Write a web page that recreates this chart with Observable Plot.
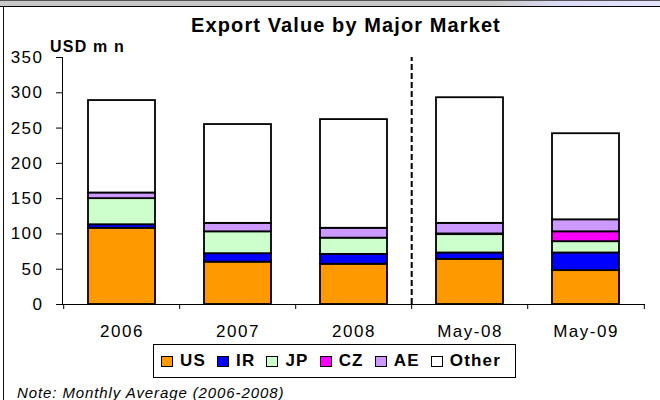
<!DOCTYPE html>
<html><head><meta charset="utf-8">
<script src="https://cdn.jsdelivr.net/npm/d3@7"></script>
<script src="https://cdn.jsdelivr.net/npm/@observablehq/plot@0.6"></script>
<style>
html,body{margin:0;padding:0;background:#fff;}
#wrap{position:relative;width:660px;height:400px;overflow:hidden;font-family:"Liberation Sans",Arial,sans-serif;color:#000;}
#topbar{position:absolute;left:0;top:0;width:660px;height:5px;border-top:1.5px solid #555;border-bottom:1.5px solid #000;background:linear-gradient(to right,#c8c8c8 0%,#c8c8c8 75%,#dcdcf8 85%,#e4e4fc 100%);}
#leftline{position:absolute;left:2.5px;top:7px;width:1.5px;height:400px;background:#111;}
#chart{position:absolute;left:0;top:0;}
#title{position:absolute;left:0;width:692px;top:15px;text-align:center;font-weight:bold;font-size:20px;line-height:20px;letter-spacing:1.1px;white-space:nowrap;}
#unit{position:absolute;left:50px;top:39px;font-weight:bold;font-size:16px;line-height:16px;letter-spacing:1.2px;white-space:nowrap;}
#legend{position:absolute;left:153px;top:344px;border:1px solid #000;display:flex;align-items:center;padding-left:7px;box-sizing:border-box;width:363px;height:34px;}
.item{display:flex;align-items:center;margin-right:11px;font-weight:bold;font-size:17px;letter-spacing:1.2px;}
.sw{width:10px;height:9px;border:1.5px solid #000;margin-right:7px;}
#note{position:absolute;left:17px;top:385px;font-style:italic;font-size:15px;line-height:15px;letter-spacing:0.9px;white-space:nowrap;}
</style></head><body>
<div id="wrap">
 <div id="topbar"></div>
 <div id="leftline"></div>
 <div id="chart"></div>
 <div id="title">Export Value by Major Market</div>
 <div id="unit">USD m n</div>
 <div id="legend"></div>
 <div id="note">Note: Monthly Average (2006-2008)</div>
</div>
<script>
const periods = ["2006", "2007", "2008", "May-08", "May-09"];
const markets = ["US", "IR", "JP", "CZ", "AE", "Other"];
const marketColors = ["#FF9900", "#0000FF", "#CCFFCC", "#FF00FF", "#CC99FF", "#FFFFFF"];
const usValues = [108, 60, 57, 64, 48];
const irValues = [5, 12, 14, 9, 25];
const jpValues = [37, 31, 23, 26, 16];
const czValues = [0, 0, 0, 1, 14];
const aeValues = [8, 12, 14, 15, 17];
const otherValues = [131, 140, 154, 178, 122];
const yTicks = [0, 50, 100, 150, 200, 250, 300, 350];
const yMax = 350;
const dividerBefore = "May-08";

const series = [usValues, irValues, jpValues, czValues, aeValues, otherValues];
const data = periods.flatMap((p, i) => markets.map((m, j) => ({period: p, market: m, value: series[j][i]})));

const W = 660, H = 400, mL = 62, mR = 15, mT = 57, mB = 96;
const step = (W - mL - mR) / periods.length;
const pxPerUnit = (H - mT - mB) / yMax;
const tickLen = 5 / pxPerUnit;

const plot = Plot.plot({
  width: W, height: H,
  marginLeft: mL, marginRight: mR, marginTop: mT, marginBottom: mB,
  style: {fontFamily: "'Liberation Sans', Arial, sans-serif", fontSize: "17px", color: "#000", background: "transparent", letterSpacing: "1.5px"},
  x: {domain: periods, paddingInner: 0.42, paddingOuter: 0.21, tickSize: 0, tickPadding: 20, label: null},
  y: {domain: [0, yMax], ticks: yTicks, tickSize: 6, tickPadding: 13, label: null, line: true, tickFormat: d => String(d)},
  color: {domain: markets, range: marketColors},
  marks: [
    Plot.barY(data, {x: "period", y: "value", fill: "market", stroke: "#000", strokeWidth: 1.8, order: markets}),
    Plot.ruleY([0], {stroke: "#000"}),
    Plot.ruleX(periods, {x: d => d, y1: 0, y2: -tickLen, dx: -step / 2, stroke: "#000"}),
    Plot.ruleX(periods.slice(-1), {x: d => d, y1: 0, y2: -tickLen, dx: step / 2, stroke: "#000"}),
    Plot.ruleX([dividerBefore], {x: d => d, y1: 0, y2: yMax, dx: -step / 2, stroke: "#000", strokeWidth: 2, strokeDasharray: "6,3"})
  ]
});
document.getElementById("chart").appendChild(plot);

const legend = document.getElementById("legend");
markets.forEach((m, j) => {
  const it = document.createElement("div");
  it.className = "item";
  const sw = document.createElement("div");
  sw.className = "sw";
  sw.style.background = marketColors[j];
  const t = document.createElement("span");
  t.textContent = m;
  it.appendChild(sw); it.appendChild(t);
  legend.appendChild(it);
});
</script>
</body></html>
